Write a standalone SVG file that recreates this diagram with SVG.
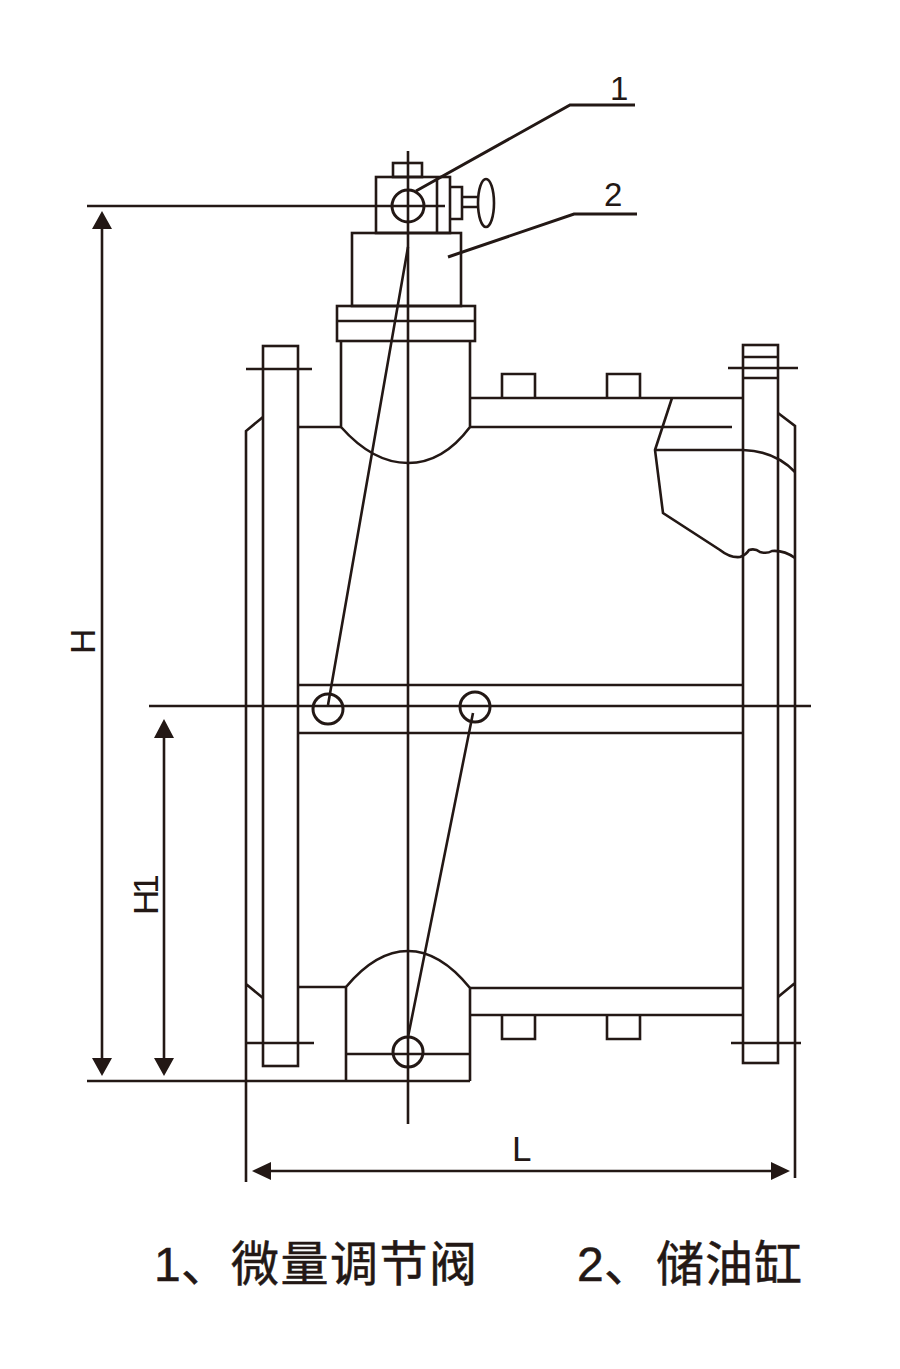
<svg xmlns="http://www.w3.org/2000/svg" width="900" height="1369" viewBox="0 0 900 1369">
<style>
.l{fill:none;stroke:#231815;stroke-width:2.6;stroke-linecap:butt;stroke-linejoin:miter}
.w{stroke-width:3}
.a{fill:#231815;stroke:none}
.x{fill:#231815;font-family:"Liberation Sans",Arial,sans-serif;font-size:33px}
.d{font-size:35px}
.c{fill:#231815;stroke:#231815;stroke-width:.5;font-family:"Liberation Sans","Noto Sans CJK SC",sans-serif;font-size:48px}
</style>
<rect width="900" height="1369" fill="#fff"/>
<g id="valve-top">
<rect class="l" x="393" y="163" width="29" height="14"/>
<rect class="l" x="376" y="177" width="74" height="56"/>
<path class="l" d="M437 177V233"/>
<circle class="l w" cx="408" cy="206" r="16"/>
<path class="l" d="M451 187H462V219H451M462 197H478M462 207H478"/>
<ellipse class="l" cx="486" cy="203" rx="8" ry="24"/>
</g>
<g id="oil-cylinder">
<rect class="l" x="352" y="233" width="109" height="73"/>
<rect class="l" x="337" y="306" width="138" height="35"/>
<path class="l" d="M337 321H475"/>
<path class="l" d="M341 341V427Q373 463 408 463T470 427V341"/>
</g>
<g id="left-flange">
<rect class="l" x="263" y="346" width="35" height="720"/>
<path class="l" d="M263 417L246 431V1182M246 984L263 998"/>
</g>
<g id="right-flange">
<rect class="l" x="743" y="345" width="35" height="718"/>
<path class="l" d="M743 357H778M743 378H778M778 413L795 426V1178M778 997L795 983"/>
</g>
<g id="body">
<path class="l" d="M298 427H341M470 427H732M470 398H743M298 685H743M298 733H743M298 987H346M470 988H743M470 1015H743"/>
<path class="l" d="M502 398V374H535V398M607 398V374H640V398M502 1015V1039H535V1015M607 1015V1039H640V1015"/>
<path class="l" d="M672 398L655 450L663 513L720 550Q730 558 740 557Q746 555 749 550Q755 548 760 552Q767 554 772 551Q784 550 795 558"/>
<path class="l" d="M655 450H743Q775 451 795 472"/>
</g>
<g id="bottom-saddle">
<path class="l" d="M346 1081V987Q376 951 408 951T470 988V1081M346 1054H470"/>
<circle class="l w" cx="408" cy="1052" r="15"/>
</g>
<g id="pilot-holes">
<circle class="l w" cx="328" cy="709" r="15"/>
<circle class="l w" cx="475" cy="707" r="15"/>
</g>
<g id="connectors">
<path class="l" d="M408 151V1124"/>
<path class="l" d="M87 206H445M149 706H811M87 1081H470"/>
<path class="l" d="M246 369H312M246 1043H314M728 368H798M731 1043H801"/>
<path class="l" d="M408 247L328 705M473 713L408 1037"/>
<path class="l w" d="M416 191L570 105H635M448 257L574 214H637"/>
<path class="l" d="M102 225V1062M164 735V1060M270 1171H772"/>
<path class="a" d="M102 211L112 229H92ZM102 1076L112 1058H92ZM164 719L174 738H154ZM164 1076L174 1058H154ZM252 1171L271 1162V1180ZM790 1171L771 1162V1180Z"/>
</g>
<g id="labels">
<text class="x" x="610" y="100">1</text>
<text class="x" x="604" y="206">2</text>
<text class="x d" transform="translate(95 654) rotate(-90)">H</text>
<text class="x d" letter-spacing="-4" transform="translate(158 915) rotate(-90)">H1</text>
<text class="x d" x="512" y="1161">L</text>
<text class="c" x="154 181 231 280.5 330 379.5 429" y="1281">1、微量调节阀</text>
<text class="c" x="577 604 656 705 754" y="1281">2、储油缸</text>
</g>
</svg>
